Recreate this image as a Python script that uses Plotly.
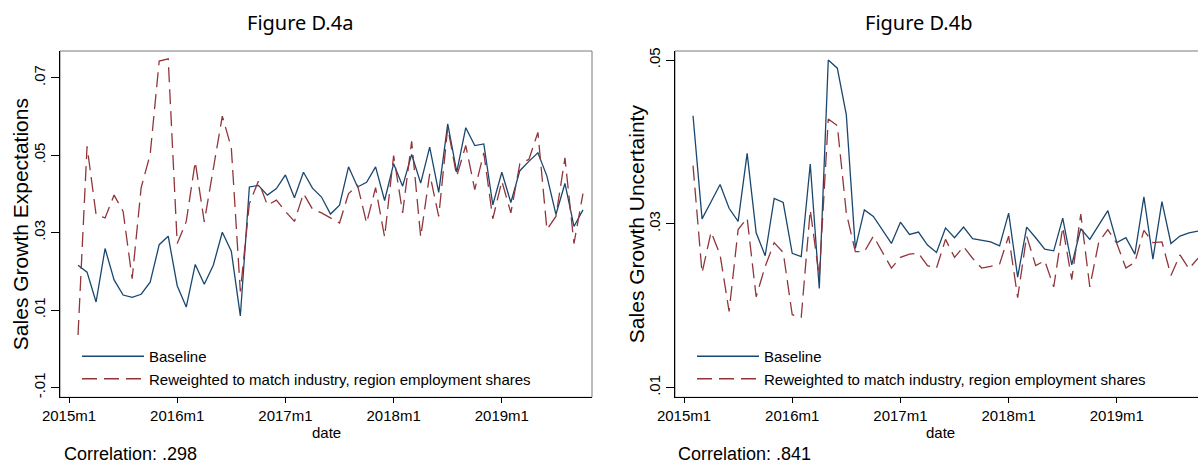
import plotly.graph_objects as go

W, H = 1198, 463

months = [
    "2015m2", "2015m3", "2015m4", "2015m5", "2015m6", "2015m7", "2015m8", "2015m9", "2015m10", "2015m11", "2015m12",
    "2016m1", "2016m2", "2016m3", "2016m4", "2016m5", "2016m6", "2016m7", "2016m8", "2016m9", "2016m10", "2016m11", "2016m12",
    "2017m1", "2017m2", "2017m3", "2017m4", "2017m5", "2017m6", "2017m7", "2017m8", "2017m9", "2017m10", "2017m11", "2017m12",
    "2018m1", "2018m2", "2018m3", "2018m4", "2018m5", "2018m6", "2018m7", "2018m8", "2018m9", "2018m10", "2018m11", "2018m12",
    "2019m1", "2019m2", "2019m3", "2019m4", "2019m5", "2019m6", "2019m7", "2019m8", "2019m9", "2019m10",
]

exp_baseline = [
    .0216, .0198, .0121, .0259, .0178, .0139, .0133, .0141, .0172, .0269, .0291,
    .0163, .0108, .0218, .0167, .0216, .0301, .0252, .0085, .0418, .0422, .0397, .0414,
    .0449, .0390, .0456, .0415, .0392, .0348, .0371, .0470, .0418, .0430, .0470, .0383,
    .0478, .0420, .0502, .0428, .0521, .0404, .0581, .0456, .0571, .0525, .0529, .0372,
    .0456, .0378, .0460, .0484, .0506, .0446, .0347, .0427, .0316, .0359,
]
exp_reweighted = [
    .0036, .0523, .0347, .0338, .0397, .0355, .0181, .0416, .0502, .0743, .0749,
    .0272, .0329, .0483, .0328, .0469, .0601, .0519, .0148, .0375, .0433, .0371, .0384,
    .0355, .0329, .0401, .0361, .0351, .0338, .0325, .0401, .0422, .0325, .0416, .0289,
    .0499, .0351, .0536, .0289, .0452, .0342, .0571, .0446, .0525, .0411, .0506, .0336,
    .0433, .0351, .0478, .0489, .0559, .0308, .0342, .0493, .0272, .0401,
]
unc_baseline = [
    .0432, .0306, .0327, .0348, .0319, .0303, .0386, .0289, .0261, .0331, .0326,
    .0264, .0260, .0373, .0221, .0500, .0490, .0433, .0270, .0317, .0309, .0293, .0276,
    .0302, .0287, .0290, .0274, .0265, .0295, .0283, .0296, .0282, .0280, .0278, .0273,
    .0313, .0235, .0296, .0283, .0269, .0267, .0307, .0250, .0294, .0281, .0299, .0316,
    .0277, .0283, .0263, .0333, .0257, .0327, .0276, .0285, .0289, .0291,
]
unc_reweighted = [
    .0371, .0240, .0290, .0262, .0193, .0293, .0307, .0211, .0248, .0277, .0265,
    .0189, .0186, .0317, .0235, .0428, .0420, .0313, .0266, .0266, .0285, .0266, .0246,
    .0259, .0263, .0264, .0249, .0246, .0281, .0259, .0272, .0258, .0246, .0248, .0251,
    .0285, .0210, .0285, .0249, .0255, .0223, .0296, .0232, .0312, .0223, .0278, .0293,
    .0276, .0246, .0253, .0292, .0277, .0278, .0237, .0262, .0245, .0258,
]

x_tick_labels = ["2015m1", "2016m1", "2017m1", "2018m1", "2019m1"]
exp_ticks = [-0.01, 0.01, 0.03, 0.05, 0.07]
exp_tick_labels = ["-.01", ".01", ".03", ".05", ".07"]
unc_ticks = [0.01, 0.03, 0.05]
unc_tick_labels = [".01", ".03", ".05"]

series_names = ["Baseline", "Reweighted to match industry, region employment shares"]
panel_titles = ["Figure D.4a", "Figure D.4b"]
y_titles = ["Sales Growth Expectations", "Sales Growth Uncertainty"]
correlations = ["Correlation: .298", "Correlation: .841"]


def month_index(label):
    y, m = label.split("m")
    return (int(y) - 2015) * 12 + int(m) - 1


x = [month_index(m) for m in months]
x_tick_vals = [month_index(t) for t in x_tick_labels]

NAVY = "#1a476f"
MAROON = "#90353b"
FONT = "Liberation Sans, Arial, Helvetica, sans-serif"


def px(v):
    return v / W


def py(v):
    return 1 - v / H


top, bottom = 51, 397.3
dom_y = [py(bottom), py(top)]
dom_x1 = [px(60), px(592)]
dom_x2 = [px(675), 1.0]

fig = go.Figure()

panels = [
    (exp_baseline, exp_reweighted, "x", "y", "legend"),
    (unc_baseline, unc_reweighted, "x2", "y2", "legend2"),
]
for base, rew, xa, ya, lg in panels:
    fig.add_trace(go.Scatter(x=x, y=base, mode="lines", name=series_names[0],
                             line=dict(color=NAVY, width=1.3), xaxis=xa, yaxis=ya, legend=lg))
    fig.add_trace(go.Scatter(x=x, y=rew, mode="lines", name=series_names[1],
                             line=dict(color=MAROON, width=1.3, dash="15px,7px"),
                             xaxis=xa, yaxis=ya, legend=lg))

xcommon = dict(tickmode="array", tickvals=x_tick_vals, ticktext=x_tick_labels,
               showgrid=False, zeroline=False, showline=True, linecolor="black", linewidth=1,
               ticks="outside", ticklen=5, tickcolor="black", tickwidth=1, automargin=False,
               tickfont=dict(family=FONT, size=15, color="black"))
ycommon = dict(showgrid=False, zeroline=False, showline=True, linecolor="black", linewidth=1,
               ticks="outside", ticklen=8, tickcolor="black", tickwidth=1, tickangle=-90,
               automargin=False, tickfont=dict(family=FONT, size=15, color="black"))

fig.update_layout(
    width=W, height=H, autosize=False,
    margin=dict(l=0, r=0, t=0, b=0, pad=0, autoexpand=False),
    paper_bgcolor="white", plot_bgcolor="white",
    font=dict(family=FONT, color="black"),
    xaxis=dict(domain=dom_x1, range=[-1, 58], anchor="y", **xcommon),
    yaxis=dict(domain=dom_y, range=[-0.0125, 0.0769], anchor="x",
               tickmode="array", tickvals=exp_ticks, ticktext=exp_tick_labels, **ycommon),
    xaxis2=dict(domain=dom_x2, range=[-1, 57], anchor="y2", **xcommon),
    yaxis2=dict(domain=dom_y, range=[0.00882, 0.0511], anchor="x2",
                tickmode="array", tickvals=unc_ticks, ticktext=unc_tick_labels, **ycommon),
    legend=dict(x=px(77), y=py(340), xanchor="left", yanchor="top", bgcolor="rgba(0,0,0,0)",
                itemwidth=62, font=dict(family=FONT, size=15, color="black"), tracegroupgap=0),
    legend2=dict(x=px(692), y=py(340), xanchor="left", yanchor="top", bgcolor="rgba(0,0,0,0)",
                 itemwidth=62, font=dict(family=FONT, size=15, color="black"), tracegroupgap=0),
    showlegend=True,
)

# gray frame (top/right) behind the black axis lines
fig.add_shape(type="rect", xref="paper", yref="paper", x0=dom_x1[0], x1=dom_x1[1],
              y0=dom_y[0], y1=dom_y[1], line=dict(color="#7a7a7a", width=1), layer="below")
fig.add_shape(type="rect", xref="paper", yref="paper", x0=dom_x2[0], x1=1.02,
              y0=dom_y[0], y1=dom_y[1], line=dict(color="#7a7a7a", width=1), layer="below")

ann = []
for i, cx in enumerate([300, 918]):
    ann.append(dict(text=panel_titles[i], x=px(cx), y=py(23), xref="paper", yref="paper",
                    showarrow=False, xanchor="center", yanchor="middle",
                    font=dict(family="Noto Sans, Open Sans, sans-serif", size=20, color="black")))
for i, tx in enumerate([20, 636]):
    ann.append(dict(text=y_titles[i], x=px(tx), y=(dom_y[0] + dom_y[1]) / 2, xref="paper", yref="paper",
                    showarrow=False, textangle=-90, xanchor="center", yanchor="middle",
                    font=dict(family=FONT, size=21, color="black")))
for i, tx in enumerate([326, 940]):
    ann.append(dict(text="date", x=px(tx), y=py(432), xref="paper", yref="paper",
                    showarrow=False, xanchor="center", yanchor="middle",
                    font=dict(family=FONT, size=15, color="black")))
for i, tx in enumerate([62, 676]):
    ann.append(dict(text=correlations[i], x=px(tx), y=py(454), xref="paper", yref="paper",
                    showarrow=False, xanchor="left", yanchor="middle",
                    font=dict(family=FONT, size=18, color="black")))
fig.update_layout(annotations=ann)

fig.write_html("out.html", config={"displayModeBar": False},
               post_script="document.body.style.margin='0';document.body.style.overflow='hidden';")
